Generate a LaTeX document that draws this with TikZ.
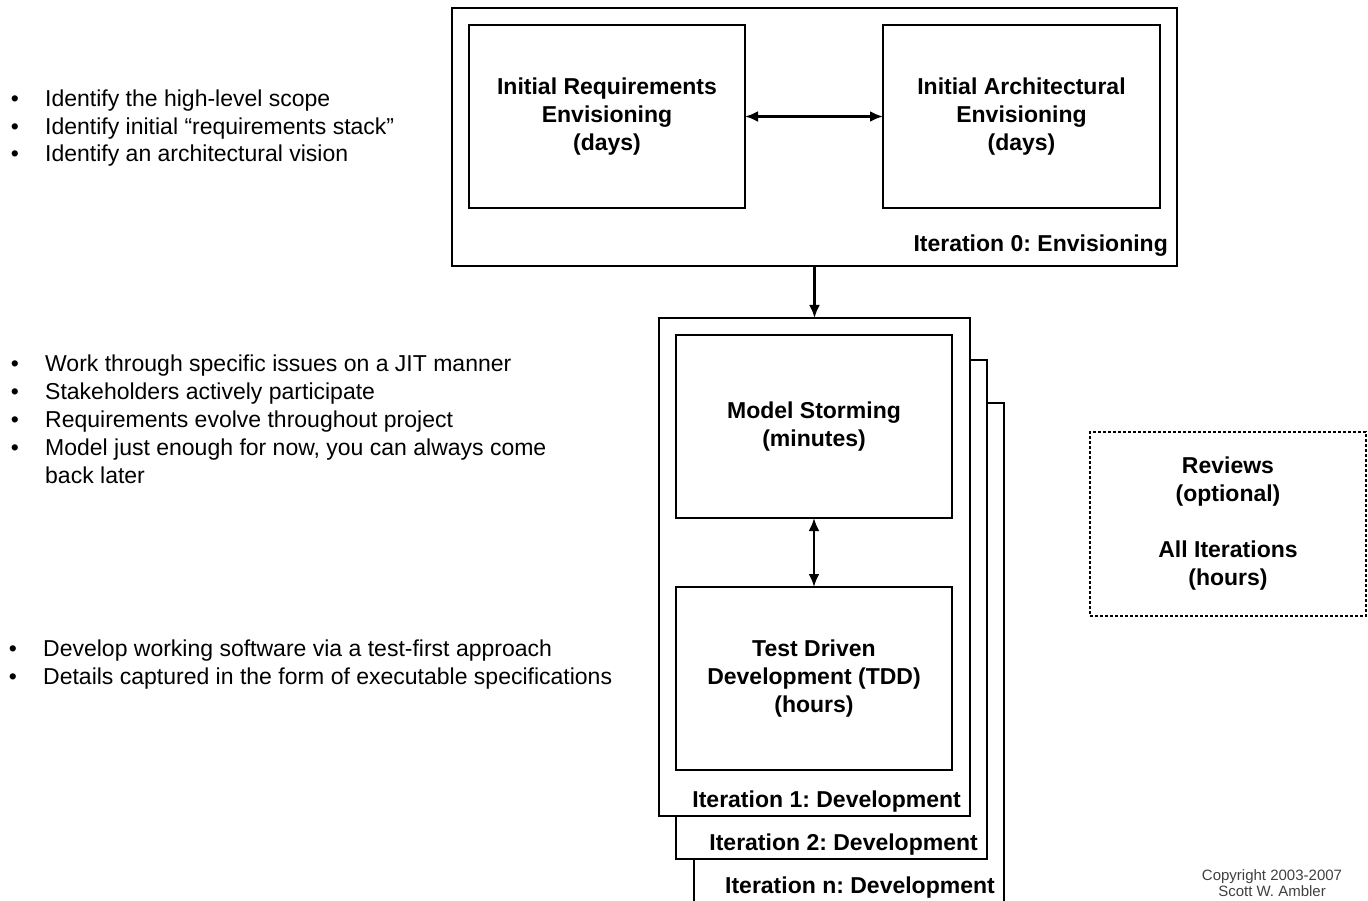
\documentclass[tikz,border=0pt]{standalone}
\usepackage{fontspec}
\setmainfont{Liberation Sans}
\usetikzlibrary{arrows.meta}
\frenchspacing
\begin{document}
\frenchspacing
\begin{tikzpicture}[x=1pt,y=-1pt,
  box/.style={draw, line width=2.2pt, fill=white, outer sep=0pt, inner sep=0pt},
  lbl/.style={font=\fontsize{23}{28}\selectfont\bfseries, align=center},
  itl/.style={font=\fontsize{23}{28}\selectfont\bfseries, anchor=base east, inner sep=0pt},
  bul/.style={font=\fontsize{23}{27.5}\selectfont, anchor=base west, inner sep=0pt},
  dot/.style={font=\fontsize{23}{27.5}\selectfont, anchor=base, inner sep=0pt},
  arr/.style={line width=2.4pt, {Latex[length=13pt,width=11pt]}-{Latex[length=13pt,width=11pt]}},
  onearr/.style={line width=2.4pt, -{Latex[length=13pt,width=11pt]}}]
\useasboundingbox (0,0) rectangle (1368,901);

% Iteration 0
\node[box, minimum width=725pt, minimum height=258pt] (it0) at (814.5,137) {};
\node[box, lbl, minimum width=276pt, minimum height=183pt] (req) at (607,116.5)
  {Initial Requirements\\Envisioning\\(days)};
\node[box, lbl, minimum width=277pt, minimum height=183pt] (arch) at (1021.5,116.5)
  {Initial Architectural\\Envisioning\\(days)};
\draw[arr] (req.east) -- (arch.west);
\node[itl] (it0lbl) at (1168,252) {Iteration 0: Envisioning};

% Iteration stack
\draw[line width=2.2pt] (694,910) -- (694,403) -- (1004,403) -- (1004,910);
\node[itl] (itnlbl) at (995,893) {Iteration n: Development};
\node[box, minimum width=311pt, minimum height=499pt] (it2) at (831.5,609.5) {};
\node[itl] (it2lbl) at (978,850) {Iteration 2: Development};
\node[box, minimum width=311pt, minimum height=498pt] (it1) at (814.5,567) {};
\node[itl] (it1lbl) at (961,807) {Iteration 1: Development};
\node[box, lbl, minimum width=276pt, minimum height=183pt] (ms) at (814,426.5)
  {Model Storming\\(minutes)};
\node[box, lbl, minimum width=276pt, minimum height=183pt] (tdd) at (814,678.5)
  {Test Driven\\Development (TDD)\\(hours)};
\draw[arr] (ms.south) -- (tdd.north);
\draw[onearr] (it0.south) -- (it1.north);

% Reviews
\node[draw, line width=1.6pt, dash pattern=on 3pt off 2pt, lbl, minimum width=276pt,
  minimum height=184pt, inner sep=0pt] (rev) at (1228,524)
  {Reviews\\(optional)\\[28pt]All Iterations\\(hours)};

% Bullets group 1
\node[dot] (d11) at (15,107) {•};
\node[bul] (b11) at (45,107) {Identify the high-level scope};
\node[dot] (d12) at (15,134.5) {•};
\node[bul] (b12) at (45,134.5) {Identify initial “requirements stack”};
\node[dot] (d13) at (15,162) {•};
\node[bul] (b13) at (45,162) {Identify an architectural vision};

% Bullets group 2
\node[dot] (d21) at (15,371) {•};
\node[bul] (b21) at (45,371) {Work through specific issues on a JIT manner};
\node[dot] (d22) at (15,399) {•};
\node[bul] (b22) at (45,399) {Stakeholders actively participate};
\node[dot] (d23) at (15,427) {•};
\node[bul] (b23) at (45,427) {Requirements evolve throughout project};
\node[dot] (d24) at (15,455) {•};
\node[bul] (b24) at (45,455) {Model just enough for now, you can always come};
\node[bul] (b25) at (45,483) {back later};

% Bullets group 3
\node[dot] (d31) at (13,656) {•};
\node[bul] (b31) at (43,656) {Develop working software via a test-first approach};
\node[dot] (d32) at (13,684) {•};
\node[bul] (b32) at (43,684) {Details captured in the form of executable specifications};

% Copyright
\node[font=\fontsize{15}{16}\selectfont, text=black!75, align=center, inner sep=0pt] (copy)
  at (1272,883) {Copyright 2003-2007\\Scott W. Ambler};
\end{tikzpicture}
\end{document}
